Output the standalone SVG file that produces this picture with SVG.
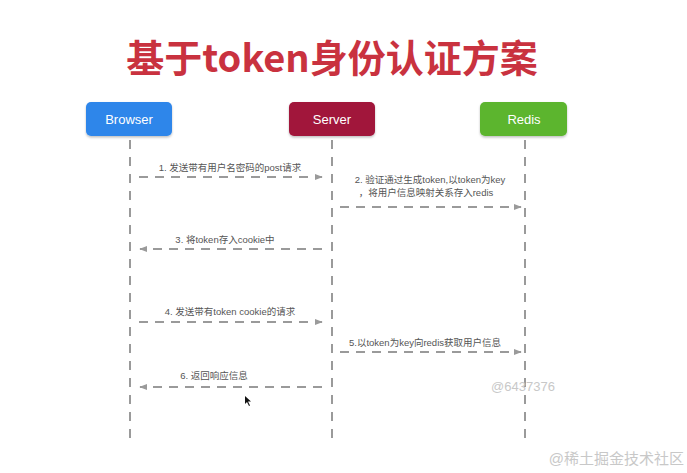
<svg xmlns="http://www.w3.org/2000/svg" width="687" height="473" viewBox="0 0 687 473">
<defs>
<style>
.title{font-family:"Noto Sans CJK SC","Liberation Sans",sans-serif;font-weight:bold;font-size:38px;fill:#c9323f}
.box{stroke:none}
.bt{font-family:"Liberation Sans","Noto Sans CJK SC",sans-serif;font-size:13px;fill:#fff;text-anchor:middle}
.life{stroke:#9a9a9a;stroke-width:2;stroke-dasharray:9 8;fill:none}
.msg{stroke:#9a9a9a;stroke-width:2;stroke-dasharray:9 7;fill:none}
.lbl{font-family:"Liberation Sans","Noto Sans CJK SC",sans-serif;font-size:9.5px;fill:#555;text-anchor:middle}
.wm{font-family:"Liberation Sans","Noto Sans CJK SC",sans-serif;fill:#c8c8c8}
</style>
<marker id="ah" viewBox="0 0 10 10" refX="9" refY="5" markerWidth="8" markerHeight="8" markerUnits="userSpaceOnUse" orient="auto">
<path d="M0,1 L10,5 L0,9 z" fill="#9a9a9a"/>
</marker>
<filter id="sh" x="-10%" y="-20%" width="120%" height="150%">
<feDropShadow dx="0" dy="1.5" stdDeviation="1.2" flood-color="#000" flood-opacity="0.25"/>
</filter>
</defs>
<rect width="687" height="473" fill="#fff"/>
<text class="title" x="332" y="72" text-anchor="middle">基于token身份认证方案</text>

<g id="connectors">
<line class="life" x1="130" y1="140" x2="130" y2="446"/>
<line class="life" x1="332" y1="140" x2="332" y2="446"/>
<line class="life" x1="525" y1="140" x2="525" y2="446"/>
<line class="msg" x1="139" y1="177" x2="322" y2="177" marker-end="url(#ah)"/>
<line class="msg" x1="340" y1="207" x2="521" y2="207" marker-end="url(#ah)"/>
<line class="msg" x1="322" y1="249" x2="140" y2="249" marker-end="url(#ah)"/>
<line class="msg" x1="139" y1="322" x2="322" y2="322" marker-end="url(#ah)"/>
<line class="msg" x1="340" y1="352" x2="521" y2="352" marker-end="url(#ah)"/>
<line class="msg" x1="322" y1="387" x2="140" y2="387" marker-end="url(#ah)"/>
<text class="lbl" x="230" y="171">1. 发送带有用户名密码的post请求</text>
<text class="lbl" x="430" y="183">2. 验证通过生成token,以token为key</text>
<text class="lbl" x="426" y="196">，将用户信息映射关系存入redis</text>
<text class="lbl" x="225" y="243">3. 将token存入cookie中</text>
<text class="lbl" x="230" y="315">4. 发送带有token cookie的请求</text>
<text class="lbl" x="425" y="346">5.以token为key向redis获取用户信息</text>
<text class="lbl" x="214" y="379">6. 返回响应信息</text>
</g>

<g id="browser">
<rect class="box" x="86" y="102" width="86" height="34" rx="5" fill="#2e86ea" filter="url(#sh)"/>
<text class="bt" x="129" y="123.5">Browser</text>
</g>
<g id="server">
<rect class="box" x="289" y="102" width="86" height="34" rx="5" fill="#a1153a" filter="url(#sh)"/>
<text class="bt" x="332" y="123.5">Server</text>
</g>
<g id="redis">
<rect class="box" x="480" y="102" width="87" height="34" rx="5" fill="#5bb52e" filter="url(#sh)"/>
<text class="bt" x="524" y="123.5">Redis</text>
</g>

<text class="wm" x="523" y="391" font-size="13" text-anchor="middle">@6437376</text>
<text class="wm" x="684" y="464" font-size="15" text-anchor="end" fill="#bcbcbc">@稀土掘金技术社区</text>
<path d="M245,396 L245,404 L247,402 L249,406 L250,405.5 L248,401.5 L251,401.5 z" fill="#111"/>
</svg>
